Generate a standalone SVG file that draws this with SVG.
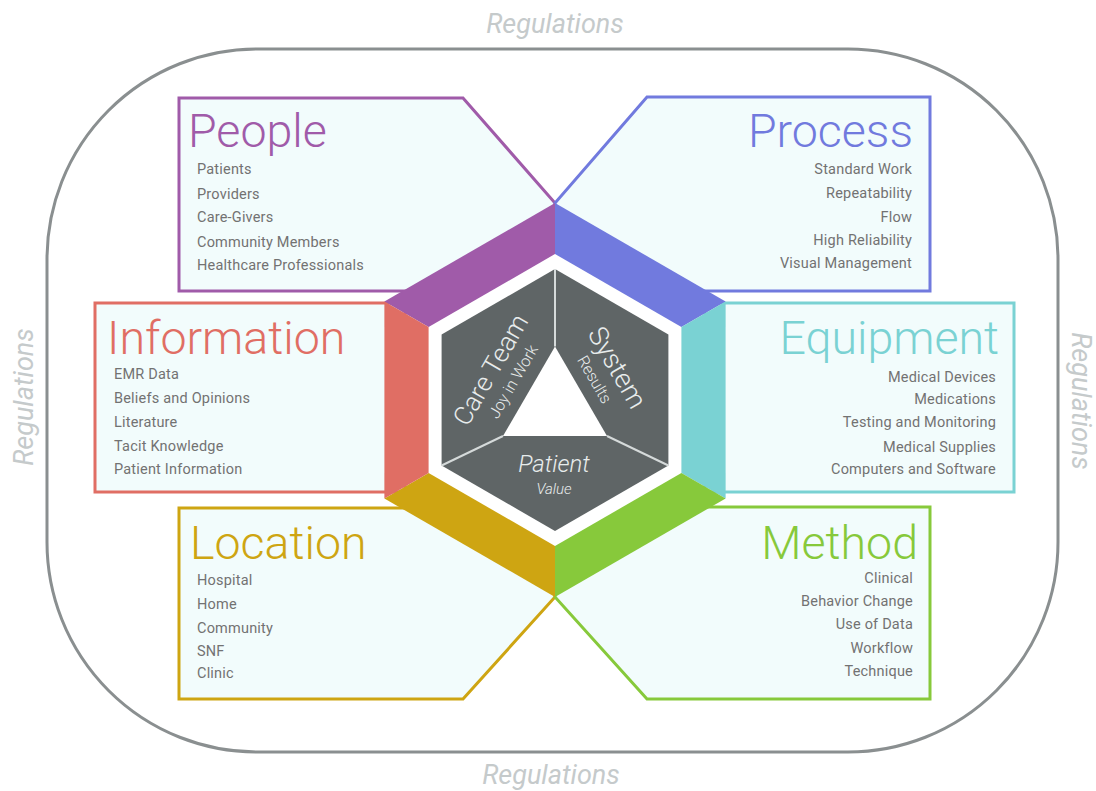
<svg xmlns="http://www.w3.org/2000/svg" width="1096" height="791" viewBox="0 0 1096 791">
<style>
.box{fill:#f2fcfc;stroke-width:3}
.title{font-family:Roboto,"Liberation Sans",sans-serif;font-weight:300;font-size:46.5px}
.item{font-family:Roboto,"Liberation Sans",sans-serif;font-size:14.5px;letter-spacing:0.2px;fill:#727272}
.end{text-anchor:end}
.reg{font-family:Roboto,"Liberation Sans",sans-serif;font-style:italic;font-size:27px;fill:#c5cacb;text-anchor:middle}
.hubt{font-family:Roboto,"Liberation Sans",sans-serif;font-weight:300;fill:#e8ecec;text-anchor:middle}
.div{stroke:#d5dada;stroke-width:2;fill:none}
</style>
<rect width="1096" height="791" fill="#ffffff"/>
<g id="regulations">
<rect x="47" y="49" width="1011" height="703" rx="210" ry="210" fill="none" stroke="#8a8f90" stroke-width="3"/>
<text class="reg" x="555" y="33">Regulations</text>
<text class="reg" x="551" y="784">Regulations</text>
<text class="reg" transform="translate(33,397) rotate(-90)">Regulations</text>
<text class="reg" transform="translate(1072,401) rotate(90)">Regulations</text>
</g>
<g id="people">
<polygon class="box" stroke="#a05ba9" points="179,98 463,98 555,203 555,230 440,291 179,291"/>
<text class="title" fill="#a05ba9" x="188" y="147">People</text>
<text class="item" x="197" y="174">Patients</text>
<text class="item" x="197" y="199">Providers</text>
<text class="item" x="197" y="222">Care-Givers</text>
<text class="item" x="197" y="247">Community Members</text>
<text class="item" x="197" y="270">Healthcare Professionals</text>
</g>
<g id="process">
<polygon class="box" stroke="#717ade" points="930,97 647,97 555,203 555,230 670,291 930,291"/>
<text class="title end" fill="#717ade" x="913" y="147">Process</text>
<text class="item end" x="912" y="174">Standard Work</text>
<text class="item end" x="912" y="198">Repeatability</text>
<text class="item end" x="912" y="222">Flow</text>
<text class="item end" x="912" y="245">High Reliability</text>
<text class="item end" x="912" y="268">Visual Management</text>
</g>
<g id="information">
<polygon class="box" stroke="#e06e64" points="95,303 405,303 405,492 95,492"/>
<text class="title" fill="#e06e64" x="107" y="354">Information</text>
<text class="item" x="114" y="379">EMR Data</text>
<text class="item" x="114" y="403">Beliefs and Opinions</text>
<text class="item" x="114" y="427">Literature</text>
<text class="item" x="114" y="451">Tacit Knowledge</text>
<text class="item" x="114" y="474">Patient Information</text>
</g>
<g id="equipment">
<polygon class="box" stroke="#7ad2d3" points="1014,303 705,303 705,492 1014,492"/>
<text class="title end" fill="#7ad2d3" x="999" y="354">Equipment</text>
<text class="item end" x="996" y="382">Medical Devices</text>
<text class="item end" x="996" y="404">Medications</text>
<text class="item end" x="996" y="427">Testing and Monitoring</text>
<text class="item end" x="996" y="452">Medical Supplies</text>
<text class="item end" x="996" y="474">Computers and Software</text>
</g>
<g id="location">
<polygon class="box" stroke="#cea512" points="179,508 440,508 555,570 555,597 463,699 179,699"/>
<text class="title" fill="#cea512" x="190" y="559">Location</text>
<text class="item" x="197" y="585">Hospital</text>
<text class="item" x="197" y="609">Home</text>
<text class="item" x="197" y="633">Community</text>
<text class="item" x="197" y="656">SNF</text>
<text class="item" x="197" y="678">Clinic</text>
</g>
<g id="method">
<polygon class="box" stroke="#87c93b" points="930,507 670,507 555,570 555,597 647,699 930,699"/>
<text class="title end" fill="#87c93b" x="918" y="559">Method</text>
<text class="item end" x="913" y="583">Clinical</text>
<text class="item end" x="913" y="606">Behavior Change</text>
<text class="item end" x="913" y="629">Use of Data</text>
<text class="item end" x="913" y="653">Workflow</text>
<text class="item end" x="913" y="676">Technique</text>
</g>
<g id="ring">
<polygon fill="#ffffff" points="555,254 681.4,327 681.4,473 555,546 428.6,473 428.6,327"/>
<polygon fill="#a05ba9" points="384.4,301.5 555,203 555,254 428.6,327"/>
<polygon fill="#717ade" points="555,203 725.6,301.5 681.4,327 555,254"/>
<polygon fill="#7ad2d3" points="725.6,301.5 725.6,498.5 681.4,473 681.4,327"/>
<polygon fill="#87c93b" points="725.6,498.5 555,597 555,546 681.4,473"/>
<polygon fill="#cea512" points="555,597 384.4,498.5 428.6,473 555,546"/>
<polygon fill="#e06e64" points="384.4,498.5 384.4,301.5 428.6,327 428.6,473"/>
</g>
<g id="hub">
<polygon fill="#5f6566" points="555,269 668.4,334.5 668.4,465.5 555,531 441.6,465.5 441.6,334.5"/>
<polygon fill="#ffffff" points="555,346.5 607,436 503,436"/>
<g transform="translate(555,400) rotate(-60)">
<text class="hubt" x="-6" y="-62" style="font-size:26px">Care Team</text>
<text class="hubt" x="-5" y="-40" style="font-size:16px">Joy in Work</text>
</g>
<g transform="translate(555,400) rotate(60)">
<text class="hubt" x="3" y="-61" style="font-size:27px">System</text>
<text class="hubt" x="2" y="-39" style="font-size:16px">Results</text>
</g>
<text class="hubt" x="554" y="472" style="font-size:24px;font-style:italic">Patient</text>
<text class="hubt" x="554" y="494" style="font-size:15px;font-style:italic">Value</text>
</g>
<g id="connectors">
<line class="div" x1="555" y1="269" x2="555" y2="346.5"/>
<line class="div" x1="441.6" y1="465.5" x2="503" y2="436"/>
<line class="div" x1="668.4" y1="465.5" x2="607" y2="436"/>
</g>
</svg>
